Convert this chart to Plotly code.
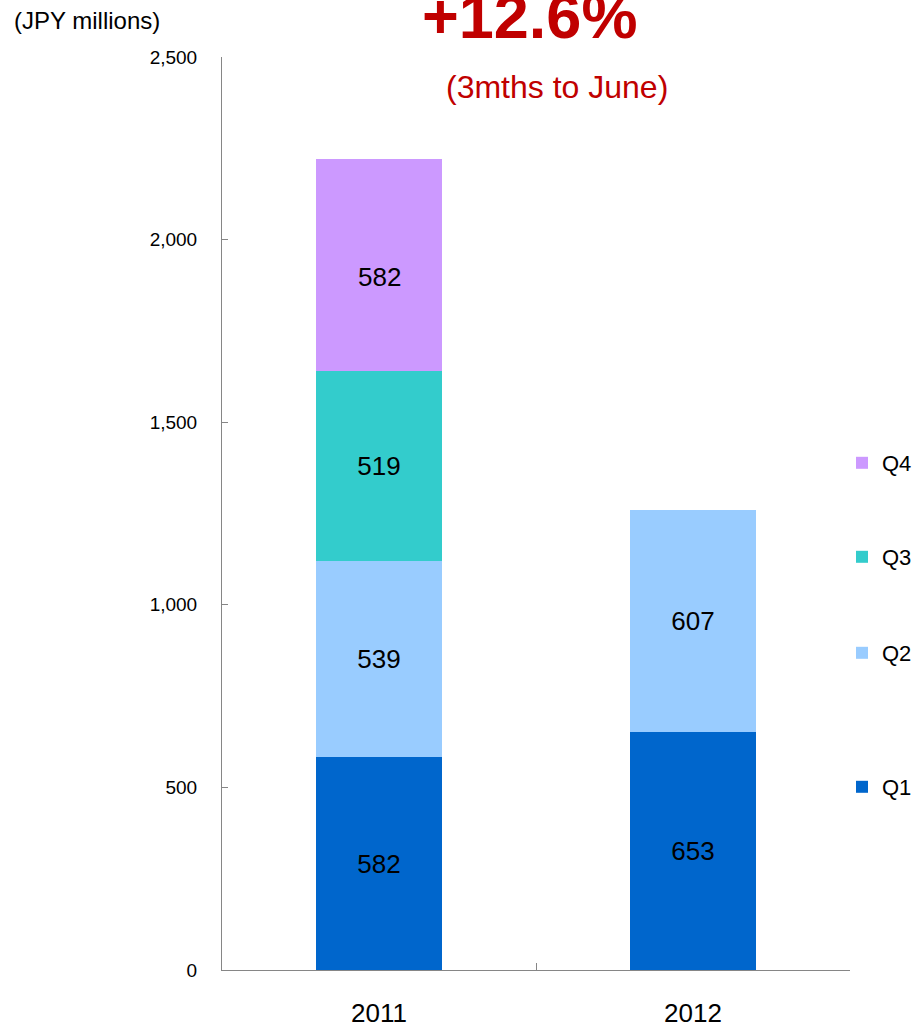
import plotly.graph_objects as go

years = ["2011", "2012"]
q1 = [582, 653]
q2 = [539, 607]
q3 = [519, None]
q4 = [582, None]
y_ticks = [0, 500, 1000, 1500, 2000, 2500]
y_tick_text = ["0", "500", "1,000", "1,500", "2,000", "2,500"]

# name, values, colour, legend id, legend centre (px from top)
series = [
    ("Q1", q1, "#0066CC", "legend4", 787),
    ("Q2", q2, "#99CCFF", "legend3", 653),
    ("Q3", q3, "#33CCCC", "legend2", 557),
    ("Q4", q4, "#CC99FF", "legend", 463),
]

font = "Liberation Sans, Arial, sans-serif"
axis_grey = "#868686"
W, H = 914, 1028

fig = go.Figure()
legends = {}
for name, vals, color, leg, ly in series:
    # the Q4 label sits a little below the segment centre in the original
    labels = [str(v) if v is not None else "" for v in vals]
    if name == "Q4":
        labels = ["" for v in vals]
    fig.add_trace(go.Bar(
        x=years, y=vals, name=name, width=0.4,
        marker=dict(color=color, line=dict(width=0)),
        text=labels,
        textposition="inside", insidetextanchor="middle",
        textfont=dict(size=26, color="black", family=font),
        constraintext="none",
        legend=leg, showlegend=True,
    ))
    legends[leg] = dict(
        visible=True,
        xref="container", yref="container",
        x=842 / W, xanchor="left", y=1 - ly / H, yanchor="middle",
        font=dict(size=22, color="black", family=font),
        bgcolor="rgba(0,0,0,0)", itemwidth=30,
    )

for i, v in enumerate(q4):
    if v is None:
        continue
    base = q1[i] + q2[i] + (q3[i] or 0)
    fig.add_annotation(
        x=i, y=base + v / 2, text=str(v), showarrow=False,
        yshift=-12, font=dict(size=26, color="black", family=font),
    )

fig.add_annotation(
    text="<b>+12.6%</b>", showarrow=False,
    xref="paper", yref="paper", x=0.4904, y=1.0044,
    xanchor="center", yanchor="bottom",
    font=dict(size=63, color="#C00000", family=font),
)
fig.add_annotation(
    text="(3mths to June)", showarrow=False,
    xref="paper", yref="paper", x=0.5334, y=0.9452,
    xanchor="center", yanchor="bottom",
    font=dict(size=32, color="#C00000", family=font),
)
fig.add_annotation(
    text="(JPY millions)", showarrow=False,
    xref="paper", yref="paper", x=-0.3344, y=1.0405,
    xanchor="left", yanchor="middle",
    font=dict(size=24, color="black", family=font),
)

fig.update_layout(
    barmode="stack",
    width=W, height=H,
    margin=dict(l=222, r=64, t=57, b=58, autoexpand=False),
    paper_bgcolor="white", plot_bgcolor="white",
    font=dict(family=font, color="black"),
    showlegend=True,
    **legends,
)
fig.update_xaxes(
    type="category", tickson="boundaries", range=[-0.5, 1.5],
    showline=True, linecolor=axis_grey, linewidth=1,
    ticks="inside", ticklen=7, tickcolor=axis_grey,
    showgrid=False, zeroline=False,
    tickfont=dict(size=26, color="black"),
    ticklabelstandoff=20,
)
fig.update_yaxes(
    range=[0, 2500], tickvals=y_ticks, ticktext=y_tick_text,
    showline=True, linecolor=axis_grey, linewidth=1,
    ticks="inside", ticklen=6, tickcolor=axis_grey,
    showgrid=False, zeroline=False,
    tickfont=dict(size=19, color="black"),
    ticklabelstandoff=20,
)

fig.write_html("out.html", config={"displayModeBar": False},
               post_script="document.body.style.margin='0';")
